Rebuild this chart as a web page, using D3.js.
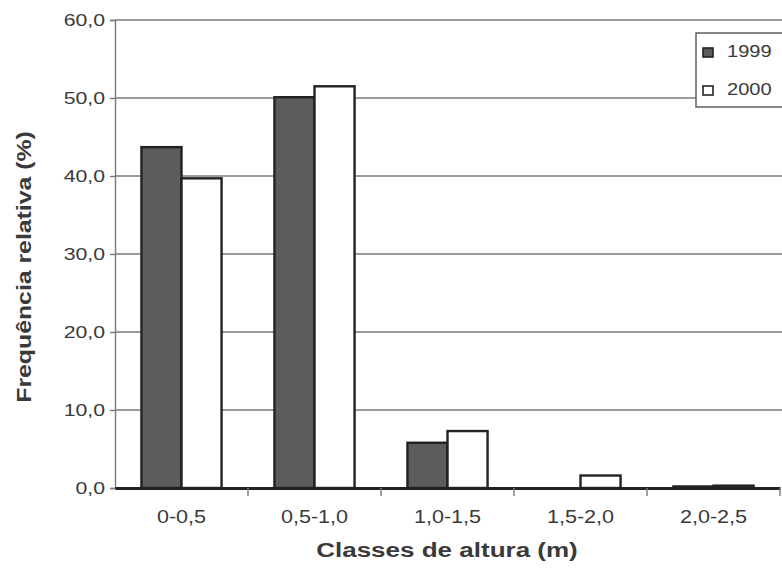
<!DOCTYPE html>
<html>
<head>
<meta charset="utf-8">
<script src="https://cdn.jsdelivr.net/npm/d3@7"></script>
<style>
  body { margin: 0; background: #fff; }
  svg { display: block; font-family: "Liberation Sans", Arial, sans-serif; }
</style>
</head>
<body>
<svg id="chart" width="782" height="574"></svg>
<script>
const categories = ["0-0,5", "0,5-1,0", "1,0-1,5", "1,5-2,0", "2,0-2,5"];
const seriesNames = ["1999", "2000"];
const values1999 = [43.7, 50.1, 5.8, 0.0, 0.2];
const values2000 = [39.7, 51.5, 7.3, 1.6, 0.3];
const yTicks = [0, 10, 20, 30, 40, 50, 60];

const fills = { "1999": "#5c5c5c", "2000": "#ffffff" };

const svg = d3.select("#chart");

const x = d3.scaleBand().domain(categories).range([115, 780]).paddingInner(0).paddingOuter(0);
const xs = d3.scaleBand().domain(seriesNames).range([0, x.bandwidth()]).paddingInner(0).paddingOuter(0.66);
const y = d3.scaleLinear().domain([0, 60]).range([488, 20]);

// widen glyphs horizontally by factor k, keeping the text as real text
function stretch(sel, k) {
  sel.each(function () {
    const n = this.getComputedTextLength();
    d3.select(this).attr("textLength", n * k).attr("lengthAdjust", "spacingAndGlyphs");
  });
}

// horizontal gridlines
svg.append("g")
  .selectAll("line")
  .data(yTicks.filter(d => d > 0))
  .join("line")
  .attr("x1", 115).attr("x2", 782)
  .attr("y1", d => y(d)).attr("y2", d => y(d))
  .attr("stroke", "#7a7a7a").attr("stroke-width", 1.4);

// y axis
const yAxis = svg.append("g")
  .attr("transform", "translate(115,0)")
  .call(d3.axisLeft(y).tickValues(yTicks).tickSize(5).tickPadding(5)
        .tickFormat(d => d3.format(".1f")(d).replace(".", ",")));
yAxis.select(".domain").attr("stroke", "#7a7a7a").attr("stroke-width", 1.4);
yAxis.selectAll(".tick line").attr("stroke", "#7a7a7a").attr("stroke-width", 1.4);
yAxis.selectAll("text").attr("font-size", 17).attr("fill", "#3a3a3a").attr("font-family", "Liberation Sans, Arial, sans-serif")
  .call(stretch, 1.25);

// bars
const rows = categories.map((c, i) => ({ c, v: [values1999[i], values2000[i]] }));
const groups = svg.append("g").selectAll("g")
  .data(rows)
  .join("g")
  .attr("transform", d => `translate(${x(d.c)},0)`);
groups.selectAll("rect")
  .data(d => seriesNames.map((s, k) => ({ s, v: d.v[k] })))
  .join("rect")
  .attr("x", d => xs(d.s))
  .attr("width", xs.bandwidth())
  .attr("y", d => y(d.v))
  .attr("height", d => y(0) - y(d.v))
  .attr("fill", d => fills[d.s])
  .attr("stroke", "#222")
  .attr("stroke-width", 2.4);

// x axis
const xAxis = svg.append("g")
  .attr("transform", "translate(0,488)")
  .call(d3.axisBottom(x).tickSize(0).tickPadding(22));
xAxis.select(".domain").attr("stroke", "#222").attr("stroke-width", 3.2);
xAxis.selectAll("text").attr("font-size", 18).attr("fill", "#3a3a3a").attr("font-family", "Liberation Sans, Arial, sans-serif")
  .call(stretch, 1.2);
// category separator ticks
svg.append("g").selectAll("line")
  .data(categories.slice(1).concat([null]))
  .join("line")
  .attr("x1", d => d ? x(d) : 780).attr("x2", d => d ? x(d) : 780)
  .attr("y1", 488).attr("y2", 496)
  .attr("stroke", "#7a7a7a").attr("stroke-width", 1.4);

// axis titles
svg.append("text")
  .attr("transform", "translate(31,267) rotate(-90)")
  .attr("text-anchor", "middle")
  .attr("font-size", 20).attr("font-weight", "bold").attr("fill", "#3a3a3a")
  .text("Frequência relativa (%)")
  .call(stretch, 1.24);
svg.append("text")
  .attr("x", 447).attr("y", 557)
  .attr("text-anchor", "middle")
  .attr("font-size", 20).attr("font-weight", "bold").attr("fill", "#3a3a3a")
  .text("Classes de altura (m)")
  .call(stretch, 1.3);

// legend
const lg = svg.append("g").attr("transform", "translate(696,33)");
lg.append("rect").attr("width", 92).attr("height", 74)
  .attr("fill", "#fff").attr("stroke", "#555").attr("stroke-width", 1.4);
seriesNames.forEach((s, i) => {
  const base = 24 + i * 38;
  lg.append("rect").attr("x", 7).attr("y", base - 9).attr("width", 10).attr("height", 9)
    .attr("fill", fills[s]).attr("stroke", "#222").attr("stroke-width", 1.6);
  lg.append("text").attr("x", 31).attr("y", base)
    .attr("font-size", 17).attr("fill", "#3a3a3a").text(s)
    .call(stretch, 1.18);
});
</script>
</body>
</html>
